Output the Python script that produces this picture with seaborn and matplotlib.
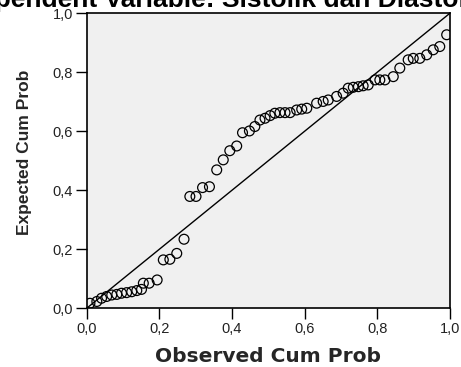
import matplotlib
matplotlib.use("Agg")
import matplotlib.pyplot as plt
import seaborn as sns
import pandas as pd
from matplotlib import font_manager

# ====== DATA ======
observed = [0.009, 0.028, 0.041, 0.055, 0.069, 0.083, 0.096, 0.110, 0.124, 0.138,
            0.151, 0.156, 0.172, 0.194, 0.211, 0.229, 0.248, 0.268, 0.284, 0.301,
            0.319, 0.338, 0.358, 0.376, 0.394, 0.413, 0.429, 0.448, 0.463, 0.477,
            0.491, 0.505, 0.518, 0.532, 0.546, 0.560, 0.578, 0.592, 0.606, 0.633,
            0.651, 0.665, 0.688, 0.706, 0.720, 0.734, 0.748, 0.761, 0.775, 0.794,
            0.807, 0.821, 0.844, 0.862, 0.885, 0.899, 0.917, 0.936, 0.954, 0.972,
            0.991]
expected = [0.017, 0.023, 0.034, 0.040, 0.045, 0.047, 0.051, 0.053, 0.056, 0.060,
            0.064, 0.085, 0.085, 0.096, 0.164, 0.166, 0.186, 0.234, 0.379, 0.379,
            0.409, 0.412, 0.469, 0.503, 0.534, 0.550, 0.595, 0.601, 0.616, 0.638,
            0.644, 0.653, 0.661, 0.663, 0.663, 0.663, 0.672, 0.675, 0.678, 0.695,
            0.701, 0.706, 0.718, 0.729, 0.746, 0.749, 0.751, 0.754, 0.757, 0.774,
            0.774, 0.774, 0.785, 0.814, 0.842, 0.847, 0.847, 0.859, 0.876, 0.887,
            0.927]
tick_vals = [0.0, 0.2, 0.4, 0.6, 0.8, 1.0]
tick_labels = ["0,0", "0,2", "0,4", "0,6", "0,8", "1,0"]
title = "Dependent Variable: Sistolik dan Diastolik"

df = pd.DataFrame({"Observed Cum Prob": observed, "Expected Cum Prob": expected})

sns.set_style("white")
plt.rcParams["font.family"] = ["Liberation Sans", "DejaVu Sans"]

names = {f.name for f in font_manager.fontManager.ttflist}
narrow = "Liberation Sans Narrow" if "Liberation Sans Narrow" in names else "Liberation Sans"

fig = plt.figure(figsize=(4.61, 3.67), dpi=100)
fig.patch.set_facecolor("white")
ax = fig.add_axes([0.188, 0.160, 0.788, 0.804])
ax.set_facecolor("#f0f0f0")

# reference diagonal
ax.plot([0, 1], [0, 1], color="black", lw=1.0, zorder=2)

sns.scatterplot(data=df, x="Observed Cum Prob", y="Expected Cum Prob", ax=ax,
                marker="o", s=50, facecolor="none", edgecolor="black",
                linewidth=0.9, zorder=3)

ax.set_xlim(0, 1)
ax.set_ylim(0, 1)
ax.set_xticks(tick_vals)
ax.set_xticklabels(tick_labels)
ax.set_yticks(tick_vals)
ax.set_yticklabels(tick_labels)
ax.tick_params(axis="both", direction="out", length=8, width=1.0, color="black",
               labelsize=10.5, labelcolor="#222222", pad=2,
               bottom=True, left=True, top=False, right=False)

for sp in ax.spines.values():
    sp.set_color("black")
    sp.set_linewidth(1.2)

ax.set_xlabel("Observed Cum Prob", fontfamily="DejaVu Sans", fontweight="bold",
              fontsize=14.5, labelpad=8)
ax.set_ylabel("Expected Cum Prob", fontfamily=narrow, fontweight="bold",
              fontsize=12.5)
ax.yaxis.set_label_coords(-0.15, 0.53)

# title is cut off by the top edge of the figure
fig.text(0.487, 0.981, title, ha="center", va="baseline", fontsize=19,
         fontweight="bold", color="black")

fig.savefig("out.png", dpi=100)
